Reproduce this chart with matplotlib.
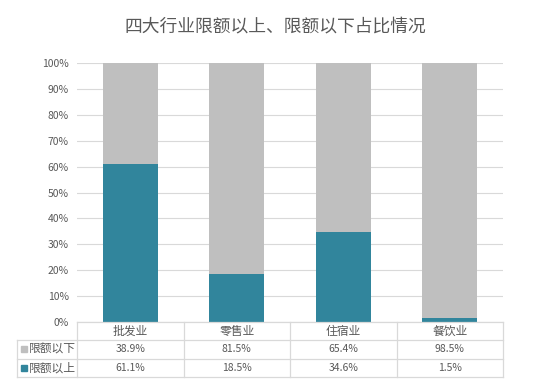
import numpy as np
import matplotlib.pyplot as plt
from matplotlib.patches import Rectangle

plt.rcParams['font.family'] = ['Noto Sans CJK SC', 'DejaVu Sans']

# Data
categories = ['批发业', '零售业', '住宿业', '餐饮业']
above = [61.1, 18.5, 34.6, 1.5]   # 限额以上
below = [38.9, 81.5, 65.4, 98.5]  # 限额以下
series_names = ['限额以下', '限额以上']
title = '四大行业限额以上、限额以下占比情况'

teal = '#31859C'
gray = '#BFBFBF'
text_c = '#595959'
line_c = '#D9D9D9'

W, H = 551, 388
fig = plt.figure(figsize=(W / 100, H / 100), dpi=100)

# plot area in pixel units
px_l, px_r, px_t, px_b = 77, 503, 63, 322
ax = fig.add_axes([px_l / W, 1 - px_b / H, (px_r - px_l) / W, (px_b - px_t) / H])

x = np.arange(len(categories)) + 0.5
ax.bar(x, above, width=0.52, color=teal, zorder=3)
ax.bar(x, below, width=0.52, bottom=above, color=gray, zorder=3)
ax.set_xlim(0, len(categories))
ax.set_ylim(0, 100)
ax.set_yticks(np.arange(0, 101, 10))
ax.set_yticklabels([f'{v}%' for v in range(0, 101, 10)])
ax.tick_params(axis='y', length=0, labelsize=7.5, labelcolor=text_c, pad=6)
ax.set_xticks([])
ax.grid(axis='y', color=line_c, linewidth=0.8, zorder=0)
for s in ax.spines.values():
    s.set_visible(False)

fig.text(0.5, 1 - 26 / H, title, ha='center', va='center', fontsize=12.8, color=text_c)

# data table below the plot
row_h = 18.3
tab_l = 17
tax = fig.add_axes([0, 0, 1, 1])
tax.set_xlim(0, W)
tax.set_ylim(H, 0)
tax.axis('off')
col_w = (px_r - px_l) / len(categories)
y0 = px_b
y1 = y0 + row_h
y2 = y1 + row_h
y3 = y2 + row_h
kw = dict(color=line_c, linewidth=0.9)
tax.plot([px_l, px_r], [y0, y0], **kw)
for yy in (y1, y2, y3):
    tax.plot([tab_l, px_r], [yy, yy], **kw)
tax.plot([tab_l, tab_l], [y1, y3], **kw)
for i in range(len(categories) + 1):
    xx = px_l + i * col_w
    tax.plot([xx, xx], [y0, y3], **kw)

for i, c in enumerate(categories):
    cx = px_l + (i + 0.5) * col_w
    tax.text(cx, (y0 + y1) / 2, c, ha='center', va='center', fontsize=8.5, color=text_c)
    tax.text(cx, (y1 + y2) / 2, f'{below[i]:.1f}%', ha='center', va='center', fontsize=7.5, color=text_c)
    tax.text(cx, (y2 + y3) / 2, f'{above[i]:.1f}%', ha='center', va='center', fontsize=7.5, color=text_c)

for name, col, (ya, yb) in zip(series_names, [gray, teal], [(y1, y2), (y2, y3)]):
    ym = (ya + yb) / 2
    tax.add_patch(Rectangle((tab_l + 4, ym - 3), 6, 6, color=col))
    tax.text(tab_l + 12, ym, name, ha='left', va='center', fontsize=8.5, color=text_c)

fig.savefig('out.png', dpi=100)
